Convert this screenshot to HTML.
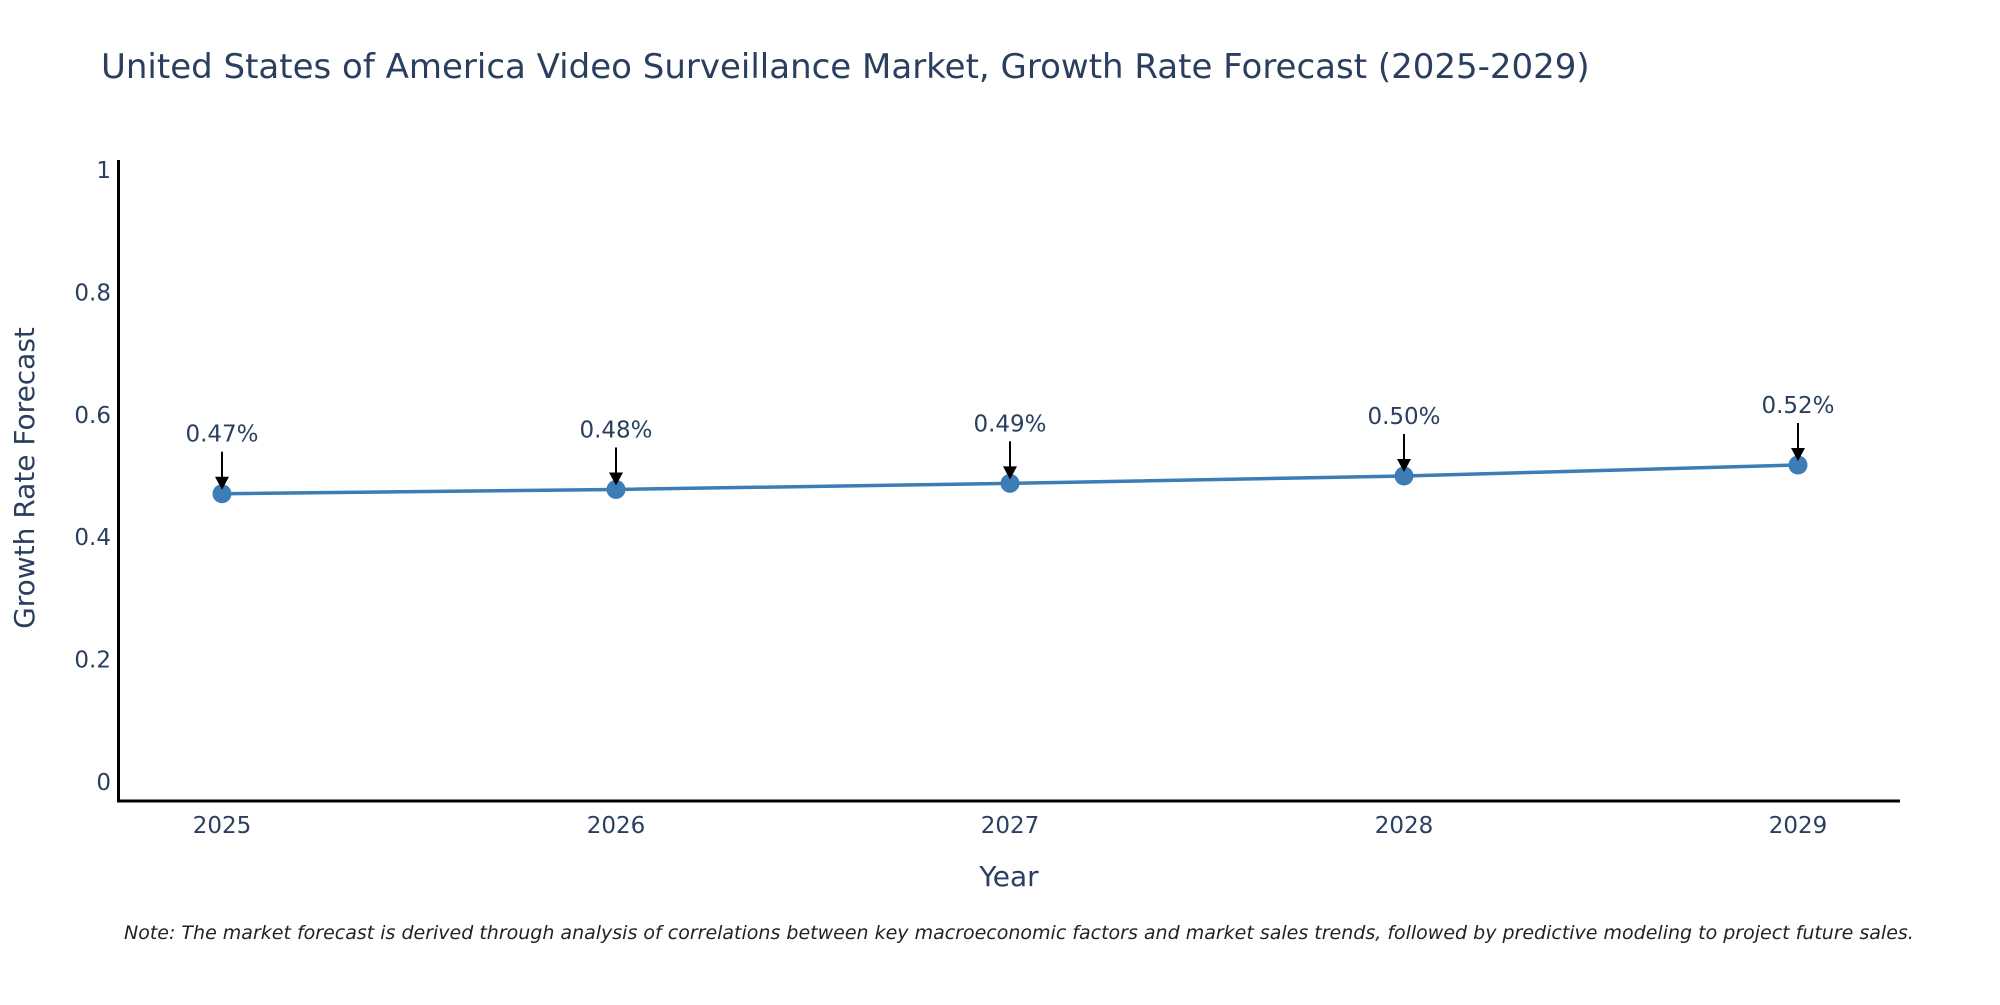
<!DOCTYPE html>
<html><head><meta charset="utf-8"><style>
body{margin:0;background:#fff;}
svg text{font-family:"DejaVu Sans","Liberation Sans",sans-serif;fill:#2a3f5f;}
</style></head><body>
<svg width="2000" height="1000" viewBox="0 0 2000 1000">
<text x="101" y="78" font-size="34">United States of America Video Surveillance Market, Growth Rate Forecast (2025-2029)</text>
<g id="yticks"></g>
<g id="xticks"></g>
<line x1="118.5" y1="160" x2="118.5" y2="802" stroke="#000" stroke-width="3"/>
<line x1="117" y1="801" x2="1900" y2="801" stroke="#000" stroke-width="3"/>
<g id="series"></g>
<text transform="translate(34,478) rotate(-90)" text-anchor="middle" font-size="28">Growth Rate Forecast</text>
<text x="1009" y="886" text-anchor="middle" font-size="28">Year</text>
<text x="124" y="939" font-size="19" font-style="italic" style="fill:#222">Note: The market forecast is derived through analysis of correlations between key macroeconomic factors and market sales trends, followed by predictive modeling to project future sales.</text>
</svg>
<script>
const years = ["2025","2026","2027","2028","2029"];
const values = [0.471, 0.478, 0.488, 0.500, 0.518];
const labels = ["0.47%","0.48%","0.49%","0.50%","0.52%"];
const yTicks = [0, 0.2, 0.4, 0.6, 0.8, 1];
const yTickLabels = ["0","0.2","0.4","0.6","0.8","1"];
const NS="http://www.w3.org/2000/svg";
function xScale(i){return 222+i*(1798-222)/(years.length-1);}
function yScale(v){return 782-612*v;}
function mk(tag,attrs,parent,txt){const e=document.createElementNS(NS,tag);for(const k in attrs)e.setAttribute(k,attrs[k]);if(txt!==undefined)e.textContent=txt;parent.appendChild(e);return e;}
const yt=document.getElementById('yticks');
yTicks.forEach((v,i)=>{const t=mk('text',{x:111,y:yScale(v)+8,'text-anchor':'end','font-size':23},yt,yTickLabels[i]);

});
const xt=document.getElementById('xticks');
years.forEach((y,i)=>{const t=mk('text',{x:xScale(i),y:833,'text-anchor':'middle','font-size':23},xt,y);

});
const s=document.getElementById('series');
const pts=values.map((v,i)=>xScale(i)+','+yScale(v)).join(' ');
const pl=mk('polyline',{points:pts,fill:'none',stroke:'#3b7db4','stroke-width':3.5},s);


values.forEach((v,i)=>{const cx=xScale(i),cy=yScale(v);
const c=mk('circle',{cx:cx,cy:cy,r:9.5,fill:'#3b7db4'},s);


const a=mk('line',{x1:cx,y1:cy-42,x2:cx,y2:cy-14,stroke:'#000','stroke-width':2},s);


const h=mk('polygon',{points:`${cx-7},${cy-17} ${cx+7},${cy-17} ${cx},${cy-4}`,fill:'#000'},s);


const t=mk('text',{x:cx,y:cy-52,'text-anchor':'middle','font-size':23},s,labels[i]);

});
</script>
</body></html>
